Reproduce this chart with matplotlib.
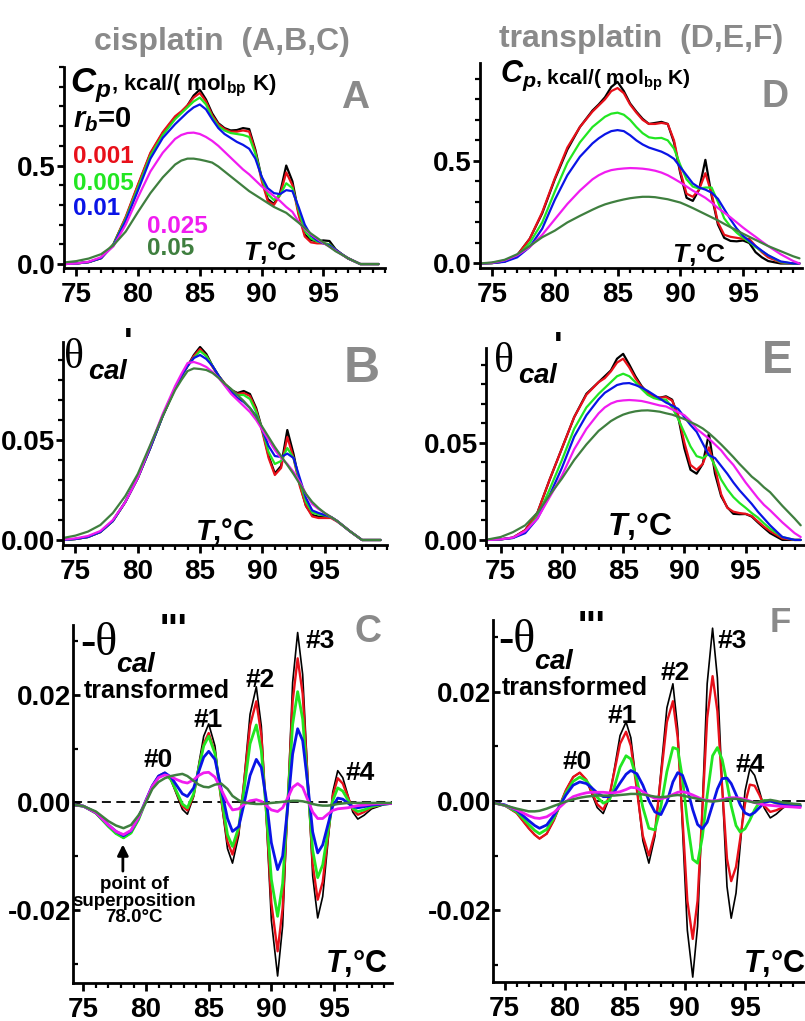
import matplotlib
matplotlib.use('Agg')
import matplotlib.pyplot as plt
from matplotlib import font_manager
from matplotlib.ticker import MultipleLocator, FixedLocator

W, H = 805, 1021

installed = {f.name for f in font_manager.fontManager.ttflist}
NARROW = 'Liberation Sans Narrow' if 'Liberation Sans Narrow' in installed else 'Liberation Sans'

plt.rcParams['font.family'] = [NARROW, 'DejaVu Sans']
plt.rcParams['font.weight'] = 'bold'
plt.rcParams['mathtext.fontset'] = 'custom'
plt.rcParams['mathtext.rm'] = NARROW + ':bold'
plt.rcParams['mathtext.it'] = NARROW + ':italic:bold'
plt.rcParams['mathtext.bf'] = NARROW + ':bold'

# ---- data -------------------------------------------------------------
rb_labels = ['0', '0.001', '0.005', '0.01', '0.025', '0.05']
colors = ['#000000', '#e8101a', '#22e622', '#0a14e6', '#f01cf0', '#3f7f3f']

# temperature grid of the Cp and theta' panels
t_melt = [74, 75, 76, 77, 78, 79, 80, 81, 82, 83, 83.5, 84, 84.5, 85, 85.5, 86, 86.5,
          87, 87.5, 88, 88.5, 89, 89.5, 90, 90.5, 91, 91.5, 92, 92.5, 93, 93.5, 94,
          94.5, 95, 95.5, 96, 96.5, 97, 98, 99, 99.5]

# A: cisplatin Cp
cp_cis = [
    [0.0, 0.003, 0.01, 0.03, 0.10, 0.235, 0.40, 0.56, 0.665, 0.745, 0.77, 0.805, 0.855, 0.885, 0.835, 0.765, 0.715, 0.69, 0.678, 0.68, 0.69, 0.685, 0.58, 0.44, 0.33, 0.305, 0.36, 0.50, 0.42, 0.26, 0.15, 0.122, 0.115, 0.12, 0.117, 0.075, 0.05, 0.028, 0.0, 0.0, 0.0],
    [0.0, 0.003, 0.01, 0.03, 0.10, 0.24, 0.405, 0.565, 0.67, 0.75, 0.775, 0.805, 0.845, 0.868, 0.825, 0.755, 0.71, 0.685, 0.672, 0.672, 0.678, 0.672, 0.57, 0.425, 0.32, 0.30, 0.35, 0.465, 0.40, 0.25, 0.14, 0.11, 0.105, 0.105, 0.10, 0.07, 0.05, 0.03, 0.0, 0.0, 0.0],
    [0.0, 0.003, 0.01, 0.03, 0.10, 0.23, 0.39, 0.55, 0.655, 0.735, 0.765, 0.795, 0.825, 0.845, 0.81, 0.745, 0.70, 0.678, 0.665, 0.66, 0.655, 0.645, 0.56, 0.44, 0.355, 0.325, 0.35, 0.41, 0.385, 0.275, 0.17, 0.13, 0.115, 0.107, 0.10, 0.072, 0.05, 0.03, 0.0, 0.0, 0.0],
    [0.0, 0.003, 0.01, 0.03, 0.095, 0.22, 0.375, 0.535, 0.64, 0.71, 0.74, 0.77, 0.795, 0.81, 0.785, 0.735, 0.69, 0.66, 0.64, 0.62, 0.605, 0.585, 0.535, 0.445, 0.385, 0.36, 0.355, 0.375, 0.37, 0.29, 0.20, 0.145, 0.12, 0.105, 0.095, 0.072, 0.05, 0.03, 0.0, 0.0, 0.0],
    [0.0, 0.003, 0.012, 0.035, 0.09, 0.20, 0.34, 0.47, 0.565, 0.635, 0.655, 0.665, 0.667, 0.66, 0.645, 0.625, 0.60, 0.57, 0.54, 0.51, 0.48, 0.455, 0.425, 0.395, 0.37, 0.345, 0.32, 0.29, 0.265, 0.215, 0.178, 0.15, 0.128, 0.107, 0.088, 0.068, 0.048, 0.03, 0.0, 0.0, 0.0],
    [0.008, 0.015, 0.028, 0.05, 0.095, 0.165, 0.265, 0.36, 0.44, 0.505, 0.525, 0.535, 0.535, 0.53, 0.523, 0.515, 0.495, 0.47, 0.445, 0.42, 0.395, 0.37, 0.35, 0.33, 0.31, 0.29, 0.275, 0.26, 0.235, 0.21, 0.183, 0.155, 0.133, 0.11, 0.088, 0.065, 0.048, 0.03, 0.0, 0.0, 0.0],
]

# B: cisplatin theta'
th_cis = [
    [0.0, 0.0005, 0.0015, 0.004, 0.0095, 0.019, 0.031, 0.046, 0.062, 0.076, 0.082, 0.087, 0.0925, 0.0965, 0.093, 0.087, 0.082, 0.078, 0.075, 0.0735, 0.0745, 0.073, 0.066, 0.055, 0.042, 0.0333, 0.037, 0.055, 0.043, 0.028, 0.017, 0.0125, 0.0117, 0.0117, 0.0115, 0.0095, 0.007, 0.0045, 0.0, 0.0, 0.0],
    [0.0, 0.0005, 0.0015, 0.004, 0.0095, 0.019, 0.031, 0.046, 0.062, 0.076, 0.082, 0.087, 0.092, 0.0955, 0.092, 0.0865, 0.082, 0.078, 0.075, 0.073, 0.0735, 0.072, 0.065, 0.054, 0.041, 0.0325, 0.036, 0.0515, 0.041, 0.027, 0.017, 0.0118, 0.011, 0.011, 0.011, 0.0092, 0.007, 0.0045, 0.0, 0.0, 0.0],
    [0.0, 0.0005, 0.0015, 0.004, 0.0095, 0.019, 0.031, 0.046, 0.062, 0.076, 0.082, 0.087, 0.091, 0.0945, 0.092, 0.087, 0.082, 0.0775, 0.074, 0.0725, 0.0725, 0.0705, 0.064, 0.055, 0.044, 0.038, 0.0395, 0.046, 0.041, 0.029, 0.019, 0.0138, 0.0128, 0.0122, 0.0115, 0.0095, 0.007, 0.0045, 0.0, 0.0, 0.0],
    [0.0, 0.0005, 0.0015, 0.004, 0.0095, 0.019, 0.031, 0.046, 0.062, 0.076, 0.082, 0.087, 0.091, 0.0925, 0.0905, 0.087, 0.082, 0.0775, 0.074, 0.071, 0.069, 0.066, 0.062, 0.055, 0.047, 0.042, 0.0415, 0.0432, 0.041, 0.031, 0.021, 0.0148, 0.0135, 0.0125, 0.0115, 0.0095, 0.007, 0.0045, 0.0, 0.0, 0.0],
    [0.0002, 0.0008, 0.002, 0.0045, 0.01, 0.019, 0.031, 0.047, 0.063, 0.077, 0.083, 0.0885, 0.089, 0.088, 0.0865, 0.084, 0.081, 0.077, 0.073, 0.07, 0.067, 0.064, 0.06, 0.055, 0.05, 0.045, 0.041, 0.038, 0.034, 0.029, 0.023, 0.018, 0.0155, 0.0135, 0.0115, 0.0095, 0.007, 0.0045, 0.0, 0.0, 0.0],
    [0.001, 0.0022, 0.0042, 0.0075, 0.0135, 0.022, 0.033, 0.0475, 0.062, 0.075, 0.08, 0.0845, 0.0858, 0.0855, 0.085, 0.0835, 0.081, 0.078, 0.0755, 0.0725, 0.0695, 0.066, 0.0615, 0.0565, 0.0515, 0.0465, 0.042, 0.0375, 0.033, 0.028, 0.023, 0.019, 0.016, 0.0135, 0.0115, 0.0095, 0.007, 0.0045, 0.0, 0.0, 0.0],
]

# D: transplatin Cp
cp_trans = [
    [0.0, 0.002, 0.01, 0.04, 0.12, 0.245, 0.41, 0.555, 0.665, 0.745, 0.775, 0.81, 0.86, 0.885, 0.84, 0.78, 0.74, 0.705, 0.68, 0.685, 0.69, 0.68, 0.59, 0.44, 0.32, 0.305, 0.36, 0.505, 0.33, 0.19, 0.125, 0.11, 0.108, 0.112, 0.10, 0.055, 0.03, 0.012, 0.0, 0.0, 0.0],
    [0.0, 0.002, 0.01, 0.04, 0.12, 0.25, 0.415, 0.565, 0.665, 0.74, 0.77, 0.80, 0.84, 0.855, 0.83, 0.775, 0.735, 0.70, 0.68, 0.68, 0.685, 0.68, 0.60, 0.45, 0.34, 0.325, 0.36, 0.44, 0.34, 0.20, 0.14, 0.13, 0.125, 0.12, 0.12, 0.085, 0.055, 0.03, 0.005, 0.0, 0.0],
    [0.0, 0.002, 0.01, 0.035, 0.10, 0.20, 0.35, 0.49, 0.59, 0.665, 0.69, 0.715, 0.73, 0.735, 0.725, 0.70, 0.665, 0.635, 0.615, 0.61, 0.612, 0.60, 0.56, 0.48, 0.41, 0.375, 0.365, 0.37, 0.37, 0.30, 0.22, 0.18, 0.15, 0.125, 0.105, 0.08, 0.06, 0.04, 0.007, 0.0, 0.0],
    [0.0, 0.002, 0.008, 0.03, 0.08, 0.17, 0.31, 0.43, 0.52, 0.585, 0.61, 0.63, 0.645, 0.65, 0.645, 0.625, 0.60, 0.58, 0.565, 0.555, 0.545, 0.53, 0.51, 0.47, 0.43, 0.39, 0.37, 0.36, 0.345, 0.315, 0.265, 0.215, 0.17, 0.135, 0.11, 0.085, 0.062, 0.04, 0.01, 0.0, 0.0],
    [0.0, 0.003, 0.015, 0.04, 0.08, 0.14, 0.215, 0.29, 0.355, 0.41, 0.43, 0.445, 0.455, 0.46, 0.463, 0.465, 0.464, 0.462, 0.458, 0.452, 0.443, 0.43, 0.413, 0.395, 0.375, 0.355, 0.338, 0.32, 0.297, 0.27, 0.248, 0.225, 0.2, 0.175, 0.152, 0.13, 0.107, 0.085, 0.045, 0.012, 0.0],
    [0.0, 0.005, 0.018, 0.045, 0.085, 0.128, 0.16, 0.2, 0.232, 0.262, 0.276, 0.288, 0.297, 0.305, 0.312, 0.318, 0.322, 0.325, 0.325, 0.323, 0.318, 0.313, 0.305, 0.297, 0.284, 0.27, 0.255, 0.24, 0.225, 0.21, 0.193, 0.177, 0.161, 0.145, 0.13, 0.115, 0.1, 0.085, 0.06, 0.035, 0.025],
]

# E: transplatin theta'
th_trans = [
    [0.0, 0.0003, 0.0012, 0.005, 0.014, 0.031, 0.047, 0.063, 0.075, 0.081, 0.084, 0.087, 0.093, 0.0955, 0.09, 0.084, 0.079, 0.0755, 0.0735, 0.073, 0.0737, 0.072, 0.063, 0.047, 0.036, 0.034, 0.039, 0.0545, 0.034, 0.0225, 0.0168, 0.0134, 0.0132, 0.0133, 0.012, 0.009, 0.0062, 0.0035, 0.0, 0.0, 0.0],
    [0.0, 0.0003, 0.0012, 0.005, 0.014, 0.031, 0.047, 0.063, 0.0745, 0.081, 0.083, 0.0865, 0.091, 0.093, 0.0885, 0.083, 0.0785, 0.0755, 0.0735, 0.073, 0.0733, 0.0715, 0.064, 0.05, 0.0385, 0.036, 0.039, 0.0475, 0.037, 0.0235, 0.0165, 0.0145, 0.0138, 0.0134, 0.0123, 0.0095, 0.0068, 0.0045, 0.0008, 0.0, 0.0],
    [0.0, 0.0003, 0.001, 0.004, 0.012, 0.026, 0.041, 0.057, 0.068, 0.075, 0.078, 0.081, 0.084, 0.0853, 0.084, 0.081, 0.0775, 0.0745, 0.0728, 0.072, 0.072, 0.068, 0.062, 0.055, 0.048, 0.043, 0.042, 0.0442, 0.038, 0.031, 0.026, 0.022, 0.019, 0.0165, 0.0138, 0.0115, 0.0085, 0.0058, 0.0015, 0.0, 0.0],
    [0.0, 0.0003, 0.001, 0.0035, 0.011, 0.023, 0.037, 0.053, 0.064, 0.0722, 0.0755, 0.0775, 0.0795, 0.0803, 0.0805, 0.0795, 0.0782, 0.0765, 0.0745, 0.0725, 0.0705, 0.069, 0.0672, 0.063, 0.059, 0.0555, 0.0495, 0.0435, 0.042, 0.038, 0.034, 0.0295, 0.0255, 0.022, 0.0185, 0.0145, 0.011, 0.0075, 0.0015, 0.0, 0.0],
    [0.0, 0.0003, 0.0012, 0.0045, 0.011, 0.022, 0.033, 0.0465, 0.057, 0.065, 0.068, 0.07, 0.0712, 0.0716, 0.0718, 0.0716, 0.0713, 0.0706, 0.0698, 0.069, 0.0685, 0.067, 0.0655, 0.064, 0.061, 0.057, 0.0545, 0.052, 0.049, 0.046, 0.042, 0.0385, 0.034, 0.0295, 0.0255, 0.0215, 0.018, 0.0152, 0.009, 0.0035, 0.0015],
    [0.0003, 0.0015, 0.004, 0.0075, 0.014, 0.023, 0.0315, 0.041, 0.049, 0.056, 0.0585, 0.061, 0.0628, 0.0643, 0.0653, 0.066, 0.0664, 0.0665, 0.0662, 0.0658, 0.065, 0.0643, 0.0632, 0.062, 0.0605, 0.059, 0.0572, 0.0548, 0.052, 0.049, 0.0458, 0.0425, 0.039, 0.0358, 0.0325, 0.03, 0.027, 0.0245, 0.0175, 0.011, 0.0075],
]

# C: cisplatin -theta''' transformed
t_osc_cis = [74, 75, 76, 77, 77.6, 78.2, 78.8, 79.4, 79.9, 80.5, 81, 81.5, 82, 82.4, 82.9, 83.3,
             83.8, 84.2, 84.6, 85, 85.5, 86, 86.5, 86.9, 87.4, 87.8, 88.3, 88.8, 89.2, 89.6,
             90, 90.5, 90.9, 91.3, 91.7, 92.1, 92.5, 92.9, 93.3, 93.7, 94.1, 94.5, 94.9,
             95.3, 95.7, 96.1, 96.5, 96.9, 97.4, 98, 99, 99.6]
d3_cis = [
    [-0.0004, -0.0007, -0.0020, -0.0045, -0.0058, -0.0066, -0.0057, -0.0031, -0.0003, 0.0030, 0.0048, 0.0055,
     0.0041, 0.0017, -0.0013, -0.0022, 0.0011, 0.0070, 0.0123, 0.0146, 0.0105, 0.0004, -0.0086, -0.0113,
     -0.0061, 0.0036, 0.0164, 0.0215, 0.0142, -0.0029, -0.0219, -0.0323, -0.0230, -0.0004, 0.0223, 0.0316,
     0.0238, 0.0051, -0.0137, -0.0215, -0.0175, -0.0078, 0.0019, 0.0059, 0.0046, 0.0014, -0.0018, -0.0031,
     -0.0024, -0.0012, -0.0004, -0.0003],
    [-0.0004, -0.0007, -0.0020, -0.0044, -0.0057, -0.0065, -0.0056, -0.0031, -0.0002, 0.0030, 0.0049, 0.0055,
     0.0042, 0.0020, -0.0007, -0.0015, 0.0013, 0.0064, 0.0109, 0.0129, 0.0093, 0.0005, -0.0073, -0.0097,
     -0.0052, 0.0032, 0.0143, 0.0188, 0.0125, -0.0023, -0.0187, -0.0277, -0.0197, -0.0005, 0.0188, 0.0268,
     0.0202, 0.0044, -0.0115, -0.0181, -0.0148, -0.0068, 0.0012, 0.0045, 0.0035, 0.0011, -0.0013, -0.0023,
     -0.0018, -0.0009, -0.0003, -0.0002],
    [-0.0004, -0.0007, -0.0020, -0.0045, -0.0058, -0.0066, -0.0057, -0.0032, -0.0003, 0.0029, 0.0048, 0.0054,
     0.0042, 0.0022, -0.0003, -0.0010, 0.0016, 0.0063, 0.0105, 0.0123, 0.0091, 0.0011, -0.0060, -0.0082,
     -0.0046, 0.0020, 0.0109, 0.0144, 0.0096, -0.0017, -0.0143, -0.0212, -0.0151, -0.0003, 0.0145, 0.0206,
     0.0155, 0.0033, -0.0089, -0.0140, -0.0116, -0.0057, 0.0003, 0.0027, 0.0021, 0.0005, -0.0011, -0.0017,
     -0.0014, -0.0008, -0.0003, -0.0002],
    [-0.0004, -0.0007, -0.0019, -0.0042, -0.0054, -0.0062, -0.0053, -0.0028, -0.0001, 0.0031, 0.0049, 0.0055,
     0.0047, 0.0033, 0.0016, 0.0011, 0.0027, 0.0057, 0.0084, 0.0095, 0.0080, 0.0025, -0.0030, -0.0054,
     -0.0045, -0.0005, 0.0050, 0.0080, 0.0065, 0.0005, -0.0075, -0.0125, -0.0100, -0.0010, 0.0090, 0.0137,
     0.0115, 0.0035, -0.0055, -0.0094, -0.0079, -0.0043, -0.0007, 0.0008, 0.0006, -0.0001, -0.0008, -0.0010,
     -0.0008, -0.0005, -0.0003, -0.0002],
    [-0.0004, -0.0007, -0.0019, -0.0042, -0.0054, -0.0060, -0.0052, -0.0028, -0.0002, 0.0030, 0.0046, 0.0051,
     0.0048, 0.0043, 0.0038, 0.0036, 0.0042, 0.0050, 0.0055, 0.0056, 0.0047, 0.0024, 0.0000, -0.0014,
     -0.0012, -0.0004, 0.0003, 0.0005, 0.0002, -0.0006, -0.0014, -0.0017, -0.0010, 0.0008, 0.0028, 0.0035,
     0.0028, 0.0005, -0.0018, -0.0030, -0.0030, -0.0022, -0.0015, -0.0012, -0.0011, -0.0010, -0.0008, -0.0006,
     -0.0005, -0.0003, -0.0002, -0.0002],
    [-0.0004, -0.0007, -0.0017, -0.0035, -0.0043, -0.0048, -0.0042, -0.0024, -0.0004, 0.0025, 0.0038, 0.0045,
     0.0049, 0.0051, 0.0053, 0.0049, 0.0040, 0.0033, 0.0029, 0.0028, 0.0033, 0.0035, 0.0025, 0.0012,
     0.0004, 0.0000, -0.0002, -0.0003, -0.0003, -0.0002, -0.0001, 0.0000, 0.0001, 0.0002, 0.0003, 0.0003,
     0.0002, 0.0000, -0.0003, -0.0005, -0.0006, -0.0006, -0.0005, -0.0003, -0.0002, -0.0001, -0.0001, -0.0001,
     -0.0001, -0.0001, -0.0001, -0.0001],
]

# F: transplatin -theta''' transformed
t_osc_trans = [74, 75, 76, 77, 77.5, 77.9, 78.5, 79.1, 79.6, 80.1, 80.7, 81.25, 81.8, 82.2, 82.7, 83.2,
               83.7, 84.1, 84.6, 85.1, 85.5, 86, 86.5, 87, 87.5, 88, 88.5, 89, 89.4, 89.8, 90.2,
               90.65, 91.05, 91.45, 91.85, 92.3, 92.7, 93.1, 93.5, 93.85, 94.25, 94.6, 95, 95.4,
               95.8, 96.2, 96.6, 97.1, 97.6, 98.2, 99, 99.6]
d3_trans = [
    [-0.0003, -0.0008, -0.0022, -0.0050, -0.0062, -0.0069, -0.0060, -0.0035, -0.0007, 0.0020, 0.0044, 0.0052,
     0.0038, 0.0016, -0.0012, -0.0023, 0.0005, 0.0055, 0.0120, 0.0145, 0.0116, 0.0024, -0.0073, -0.0114,
     -0.0065, 0.0054, 0.0171, 0.0215, 0.0132, -0.0051, -0.0237, -0.0323, -0.0230, -0.0009, 0.0215, 0.0317,
     0.0226, 0.0027, -0.0157, -0.0215, -0.0169, -0.0082, 0.0018, 0.0059, 0.0047, 0.0018, -0.0013, -0.0031,
     -0.0024, -0.0012, -0.0007, -0.0008],
    [-0.0003, -0.0008, -0.0022, -0.0050, -0.0062, -0.0069, -0.0060, -0.0035, -0.0007, 0.0020, 0.0044, 0.0052,
     0.0039, 0.0019, -0.0006, -0.0016, 0.0008, 0.0051, 0.0105, 0.0127, 0.0101, 0.0021, -0.0064, -0.0100,
     -0.0058, 0.0045, 0.0145, 0.0183, 0.0116, -0.0033, -0.0183, -0.0253, -0.0183, -0.0017, 0.0152, 0.0229,
     0.0165, 0.0024, -0.0106, -0.0147, -0.0121, -0.0069, -0.0005, 0.0030, 0.0028, 0.0011, -0.0009, -0.0020,
     -0.0017, -0.0011, -0.0008, -0.0008],
    [-0.0003, -0.0008, -0.0020, -0.0043, -0.0054, -0.0060, -0.0052, -0.0031, -0.0008, 0.0015, 0.0036, 0.0044,
     0.0037, 0.0025, 0.0007, -0.0004, 0.0001, 0.0024, 0.0062, 0.0083, 0.0077, 0.0039, -0.0012, -0.0050,
     -0.0053, -0.0010, 0.0054, 0.0098, 0.0095, 0.0041, -0.0038, -0.0107, -0.0114, -0.0066, 0.0010, 0.0083,
     0.0098, 0.0076, 0.0033, -0.0009, -0.0045, -0.0057, -0.0051, -0.0035, -0.0016, -0.0002, 0.0001, 0.0000,
     -0.0004, -0.0007, -0.0008, -0.0009],
    [-0.0003, -0.0007, -0.0017, -0.0036, -0.0045, -0.0050, -0.0044, -0.0026, -0.0008, 0.0011, 0.0029, 0.0035,
     0.0032, 0.0025, 0.0015, 0.0008, 0.0008, 0.0016, 0.0033, 0.0049, 0.0056, 0.0050, 0.0029, 0.0001,
     -0.0020, -0.0025, -0.0002, 0.0035, 0.0052, 0.0047, 0.0022, -0.0016, -0.0043, -0.0051, -0.0039, -0.0007,
     0.0022, 0.0041, 0.0042, 0.0032, 0.0012, -0.0007, -0.0022, -0.0026, -0.0021, -0.0012, -0.0003, 0.0000,
     -0.0003, -0.0006, -0.0008, -0.0009],
    [-0.0003, -0.0008, -0.0016, -0.0027, -0.0031, -0.0032, -0.0029, -0.0021, -0.0011, -0.0001, 0.0008, 0.0012,
     0.0015, 0.0016, 0.0016, 0.0016, 0.0015, 0.0015, 0.0017, 0.0021, 0.0025, 0.0024, 0.0017, 0.0010,
     0.0005, 0.0004, 0.0007, 0.0012, 0.0016, 0.0017, 0.0015, 0.0011, 0.0007, 0.0003, 0.0001, 0.0000,
     0.0001, 0.0003, 0.0005, 0.0006, 0.0006, 0.0005, 0.0003, 0.0000, -0.0003, -0.0005, -0.0007, -0.0008,
     -0.0009, -0.0010, -0.0011, -0.0012],
    [-0.0003, -0.0008, -0.0014, -0.0019, -0.0019, -0.0018, -0.0014, -0.0009, -0.0005, -0.0001, 0.0003, 0.0006,
     0.0008, 0.0009, 0.0010, 0.0010, 0.0010, 0.0010, 0.0011, 0.0012, 0.0013, 0.0013, 0.0012, 0.0010,
     0.0008, 0.0007, 0.0008, 0.0010, 0.0011, 0.0010, 0.0008, 0.0006, 0.0004, 0.0002, 0.0000, -0.0001,
     0.0000, 0.0001, 0.0003, 0.0004, 0.0004, 0.0003, 0.0001, -0.0001, -0.0003, -0.0002, 0.0000, 0.0002,
     0.0000, -0.0003, -0.0005, -0.0006],
]

GRAY = '#8a8a8a'
TICK = 20

fig = plt.figure(figsize=(W / 100, H / 100), dpi=100)


def px_axes(left, top, right, bottom):
    return fig.add_axes([left / W, 1 - bottom / H, (right - left) / W, (bottom - top) / H])


def put(x, y, s, size, **kw):
    kw.setdefault('va', 'baseline')
    kw.setdefault('fontweight', 'bold')
    fig.text(x / W, 1 - y / H, s, fontsize=size, **kw)


def style(ax, xlim, ylim, yticks, ylabels, yminor, ydir='out'):
    ax.set_xlim(*xlim)
    ax.set_ylim(*ylim)
    for s in ('top', 'right'):
        ax.spines[s].set_visible(False)
    for s in ('left', 'bottom'):
        ax.spines[s].set_linewidth(2.0)
    ax.xaxis.set_major_locator(FixedLocator([75, 80, 85, 90, 95]))
    ax.xaxis.set_minor_locator(MultipleLocator(1))
    ax.set_yticks(yticks)
    ax.set_yticklabels(ylabels)
    ax.yaxis.set_minor_locator(MultipleLocator(yminor))
    ax.tick_params(axis='x', which='major', direction='out', length=6, width=2, labelsize=TICK, pad=4)
    ax.tick_params(axis='x', which='minor', direction='out', length=3.5, width=1.6)
    ax.tick_params(axis='y', which='major', direction=ydir, length=5, width=2, labelsize=TICK, pad=1)
    ax.tick_params(axis='y', which='minor', direction=ydir, length=3.5, width=1.6)
    ax.patch.set_alpha(0)


def draw(ax, t, series, widths):
    for ys, c, lw in zip(series, colors, widths):
        ax.plot(t, ys, color=c, lw=lw, solid_capstyle='round', solid_joinstyle='round')


melt_w = [1.6, 1.6, 1.6, 1.6, 1.6, 1.6]
osc_w = [1.2, 1.7, 2.0, 2.0, 2.0, 1.8]

# A
axA = px_axes(64, 67, 385, 268)
style(axA, (74, 100), (-0.02, 1.0), [0, 0.5], ['0.0', '0.5'], 0.1)
draw(axA, t_melt, cp_cis, melt_w)
# B
axB = px_axes(63, 342, 387, 545)
style(axB, (74, 100), (-0.0025, 0.099), [0, 0.05], ['0.00', '0.05'], 0.01)
draw(axB, t_melt, th_cis, melt_w)
# C
axC = px_axes(73, 625, 392, 983)
style(axC, (74.17, 99.63), (-0.0336, 0.033), [-0.02, 0, 0.02], ['-0.02', '0.00', '0.02'], 0.01, ydir='in')
axC.axhline(0, color='k', lw=1.3, ls=(0, (5, 3)), zorder=0)
draw(axC, t_osc_cis, d3_cis, osc_w)
# D
axD = px_axes(480, 63, 802, 268)
style(axD, (74.04, 99.7), (-0.022, 0.977), [0, 0.5], ['0.0', '0.5'], 0.1)
draw(axD, t_melt, cp_trans, melt_w)
# E
axE = px_axes(486, 348, 805, 545)
style(axE, (73.8, 99.85), (-0.0026, 0.0985), [0, 0.05], ['0.00', '0.05'], 0.01)
draw(axE, t_melt, th_trans, melt_w)
# F
axF = px_axes(493, 620, 805, 982)
style(axF, (74.03, 99.99), (-0.0332, 0.0332), [-0.02, 0, 0.02], ['-0.02', '0.00', '0.02'], 0.01, ydir='in')
axF.axhline(0, color='k', lw=1.3, ls=(0, (5, 3)), zorder=0)
draw(axF, t_osc_trans, d3_trans, osc_w)

# arrow: point of superposition
axC.annotate('', xy=(78.15, -0.0073), xytext=(78.15, -0.0133),
             arrowprops=dict(arrowstyle='-|>', color='k', lw=2, mutation_scale=16))

# ---- texts -------------------------------------------------------------
put(222, 50, 'cisplatin  (A,B,C)', 23, color=GRAY, ha='center')
put(641, 47, 'transplatin  (D,E,F)', 23, color=GRAY, ha='center')

put(355, 108, 'A', 28, color=GRAY, ha='center')
put(775, 107, 'D', 27, color=GRAY, ha='center')
put(362, 382, 'B', 36, color=GRAY, ha='center')
put(777, 373, 'E', 33, color=GRAY, ha='center')
put(368, 642, 'C', 27, color=GRAY, ha='center')
put(780, 632, 'F', 25, color=GRAY, ha='center')

# Cp labels
put(70, 92, r'$C_p$', 25)
put(111, 90, r', kcal/( mol$_{\rm bp}$ K)', 16)
put(500, 82, r'$C_p$', 22)
put(535, 85, r', kcal/( mol$_{\rm bp}$ K)', 15)

# r_b legend
put(73, 127, r'$r_b$=0', 21)
put(73, 163, rb_labels[1], 17.5, color=colors[1])
put(73, 190, rb_labels[2], 17.5, color=colors[2])
put(73, 215, rb_labels[3], 17.5, color=colors[3])
put(147, 233, rb_labels[4], 17.5, color=colors[4])
put(147, 255, rb_labels[5], 17.5, color=colors[5])

# T,°C labels
put(243, 260, r'$T$,°C', 19)
put(672, 262, r'$T$,°C', 19)
put(195, 539, r'$T$,°C', 21)
put(607, 535, r'$T$,°C', 23)
put(325, 972, r'$T$,°C', 22)
put(743, 972, r'$T$,°C', 22)

# theta' labels
for x0, y0 in [(64, 368), (494, 372)]:
    put(x0, y0, 'θ', 30, fontweight='normal', family=['Liberation Serif', 'DejaVu Serif'])
    put(x0 + 24, y0 + 11, r'$cal$', 20)
    put(x0 + 60, y0 - 14, "'", 26)

# theta''' labels
for x0, y0 in [(80, 655), (498, 652)]:
    put(x0, y0, '-θ', 33, fontweight='normal', family=['Liberation Serif', 'DejaVu Serif'])
    put(x0 + 36, y0 + 17, r'$cal$', 20)
    put(x0 + 80, y0 - 14, "'''", 28)
    put(x0 + 4, y0 + 43, 'transformed', 18)

for lab, (x0, y0) in zip(['#0', '#1', '#2', '#3', '#4'],
                         [(143, 767), (193, 727), (245, 687), (305, 648), (345, 780)]):
    put(x0, y0, lab, 19)
for lab, (x0, y0) in zip(['#0', '#1', '#2', '#3', '#4'],
                         [(562, 769), (607, 723), (660, 680), (717, 648), (735, 772)]):
    put(x0, y0, lab, 19)

put(134, 922, 'point of\nsuperposition\n78.0°C', 13.5, ha='center', linespacing=0.95,
    multialignment='center')

fig.savefig('out.png', dpi=100)
